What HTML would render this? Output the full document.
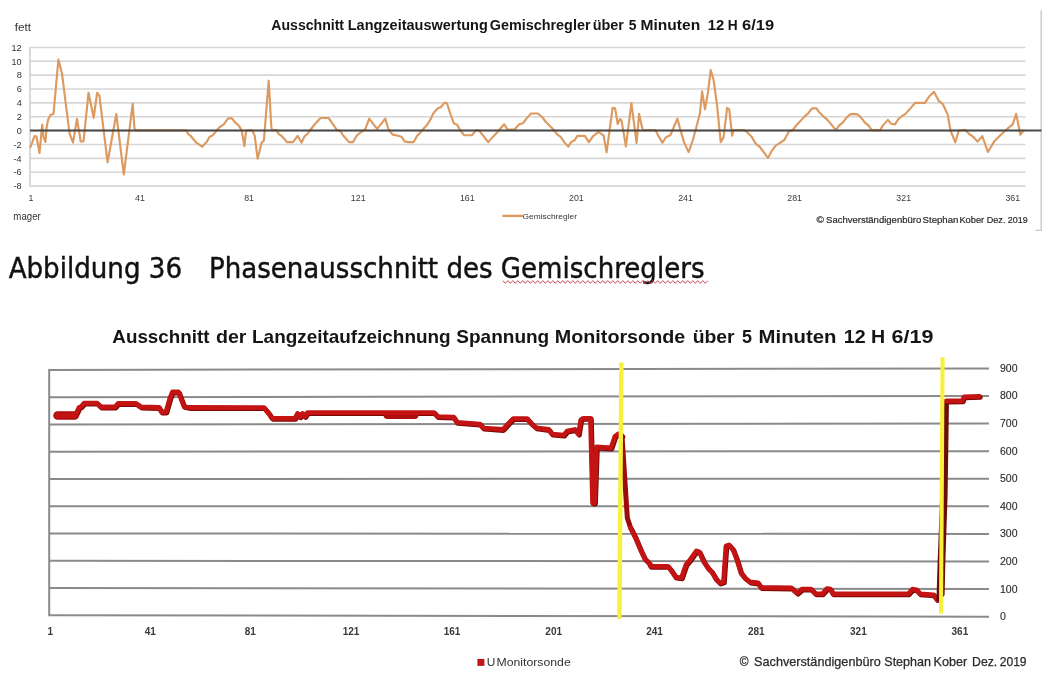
<!DOCTYPE html>
<html><head><meta charset="utf-8"><title>Abbildung 36</title>
<style>
html,body{margin:0;padding:0;background:#fff;}
body{width:1048px;height:700px;overflow:hidden;}
svg{display:block;filter:blur(0.5px);}
</style></head><body>
<svg width="1048" height="700" viewBox="0 0 1048 700">
<rect width="1048" height="700" fill="#ffffff"/>
<!-- chart 1 -->
<path d="M1041.2 10.3 V230.4 H1035.5" fill="none" stroke="#c9c9c9" stroke-width="1.4"/>
<g stroke="#d6d6d6" stroke-width="1.6"><line x1="30" x2="1025.5" y1="47.44" y2="47.44"/><line x1="30" x2="1025.5" y1="61.31" y2="61.31"/><line x1="30" x2="1025.5" y1="75.17" y2="75.17"/><line x1="30" x2="1025.5" y1="89.04" y2="89.04"/><line x1="30" x2="1025.5" y1="102.90" y2="102.90"/><line x1="30" x2="1025.5" y1="116.77" y2="116.77"/><line x1="30" x2="1025.5" y1="130.64" y2="130.64"/><line x1="30" x2="1025.5" y1="144.50" y2="144.50"/><line x1="30" x2="1025.5" y1="158.37" y2="158.37"/><line x1="30" x2="1025.5" y1="172.23" y2="172.23"/><line x1="30" x2="1025.5" y1="186.10" y2="186.10"/></g>
<line x1="30" y1="47" x2="30" y2="186.5" stroke="#d0d0d0" stroke-width="1.6"/>
<polyline points="30.5,147.0 34.5,136.0 36.5,136.5 39.5,153.0 42.2,124.5 43.5,137.0 45.5,142.0 46.5,128.0 48.0,120.0 50.5,115.0 53.5,114.0 54.5,103.0 58.4,59.5 62.1,74.1 66.0,105.7 69.6,133.6 73.0,142.5 77.0,118.9 80.7,141.5 83.5,141.5 88.5,92.8 93.7,117.8 97.1,92.8 99.4,95.6 107.6,162.3 116.3,114.0 123.8,174.4 132.7,103.8 134.5,128.9 135.5,130.4 186.0,130.4 188.3,134.1 190.6,135.8 196.3,142.7 202.1,146.7 206.6,142.1 209.5,136.9 212.9,135.2 216.9,130.1 220.4,126.6 223.8,124.3 227.8,118.6 231.8,118.1 235.3,122.6 238.7,125.5 241.6,130.1 244.4,146.1 246.1,130.6 250.2,130.1 252.4,130.6 254.7,135.8 257.6,158.7 261.6,142.7 263.9,140.4 268.7,80.7 271.3,126.6 271.9,130.1 276.5,130.1 278.8,134.1 281.6,135.8 284.5,139.2 286.8,142.1 293.0,142.1 297.6,135.8 301.6,142.6 304.5,136.3 307.9,133.5 310.2,130.0 314.8,124.3 320.5,118.0 328.5,118.0 333.1,124.3 336.5,129.5 340.5,131.2 343.4,135.8 349.1,142.1 353.1,142.1 356.6,135.8 360.6,132.3 365.2,129.5 369.2,118.6 373.2,123.8 377.2,128.9 381.2,123.8 385.2,118.6 388.6,129.5 392.6,134.6 398.4,135.8 401.8,136.9 404.6,141.5 408.0,142.1 413.7,142.1 417.2,135.8 420.6,132.3 422.9,129.5 427.5,124.3 430.9,118.6 433.2,113.5 437.8,108.3 440.7,107.2 444.7,102.6 446.9,103.2 450.4,114.0 453.8,123.2 457.3,124.9 460.1,130.0 464.1,135.2 472.1,135.2 476.1,130.0 479.0,130.6 482.4,134.6 488.2,142.1 492.8,136.9 497.3,132.3 499.6,129.5 504.2,124.3 507.6,129.5 514.5,129.5 519.3,124.3 523.0,123.2 526.5,118.6 531.0,113.5 537.9,113.5 542.5,117.5 545.9,122.0 549.4,125.5 553.9,130.0 557.4,134.6 560.8,136.9 564.2,142.1 568.2,146.6 571.1,142.1 574.5,140.3 577.4,135.8 584.8,135.8 588.9,142.1 592.9,136.3 598.4,131.9 603.6,135.3 606.6,152.4 612.6,107.9 615.1,108.3 617.7,124.1 619.9,119.0 621.6,120.7 625.9,146.4 631.4,103.1 636.6,143.0 639.1,113.9 641.7,125.9 643.0,130.1 655.4,130.0 657.7,134.6 662.3,142.6 666.3,136.9 670.3,135.2 672.6,130.0 677.4,118.6 680.0,128.6 684.3,142.9 688.6,152.1 692.9,140.0 697.1,124.3 700.0,112.9 702.1,91.4 705.0,109.3 707.9,92.9 710.7,70.0 713.6,80.0 717.1,105.7 720.7,142.1 723.6,137.1 727.1,107.9 729.3,109.3 732.1,135.7 733.6,130.0 744.3,130.0 747.9,132.9 751.4,136.4 755.7,143.6 760.0,147.1 764.3,152.9 767.9,157.9 771.4,151.4 775.7,145.7 780.0,142.9 784.3,140.0 788.9,131.4 792.7,130.1 796.6,125.0 800.4,121.1 804.3,116.6 808.2,113.4 812.0,108.3 816.5,108.3 819.7,112.8 823.6,116.6 827.4,119.9 831.3,124.4 835.8,130.1 839.0,125.6 842.9,122.4 846.7,117.3 850.6,114.1 857.0,114.1 860.9,117.3 864.7,122.4 868.6,125.6 871.8,130.1 880.2,130.1 882.8,125.6 887.9,119.9 891.1,123.7 895.0,124.4 898.2,119.2 902.0,116.0 905.5,113.9 910.4,108.4 915.2,102.8 924.9,102.8 929.1,96.6 933.9,91.8 938.7,100.8 942.9,104.2 947.7,114.6 950.5,130.5 955.3,142.3 958.8,130.5 965.0,129.8 969.2,134.0 973.3,136.8 977.5,141.6 982.3,136.1 987.9,152.0 994.1,141.6 998.9,136.8 1003.8,131.9 1009.3,127.1 1012.8,124.3 1016.2,113.9 1020.4,134.7 1023.1,131.2" fill="none" stroke="#dc9a60" stroke-width="2.15" stroke-linejoin="round" stroke-linecap="round"/>
<line x1="30" y1="130.6" x2="1041.5" y2="130.6" stroke="#3c3c3c" stroke-width="2" stroke-opacity="0.92"/>
<text x="271.30" y="30.4" font-family="Liberation Sans, sans-serif" font-weight="bold" font-size="14.1" fill="#151515" textLength="72.72" lengthAdjust="spacingAndGlyphs">Ausschnitt</text><text x="347.74" y="30.4" font-family="Liberation Sans, sans-serif" font-weight="bold" font-size="14.1" fill="#151515" textLength="140.05" lengthAdjust="spacingAndGlyphs">Langzeitauswertung</text><text x="489.69" y="30.4" font-family="Liberation Sans, sans-serif" font-weight="bold" font-size="14.1" fill="#151515" textLength="100.84" lengthAdjust="spacingAndGlyphs">Gemischregler</text><text x="592.70" y="30.4" font-family="Liberation Sans, sans-serif" font-weight="bold" font-size="14.1" fill="#151515" textLength="31.22" lengthAdjust="spacingAndGlyphs">über</text><text x="628.85" y="30.4" font-family="Liberation Sans, sans-serif" font-weight="bold" font-size="14.1" fill="#151515" textLength="7.74" lengthAdjust="spacingAndGlyphs">5</text><text x="640.59" y="30.4" font-family="Liberation Sans, sans-serif" font-weight="bold" font-size="14.1" fill="#151515" textLength="59.58" lengthAdjust="spacingAndGlyphs">Minuten</text><text x="707.83" y="30.4" font-family="Liberation Sans, sans-serif" font-weight="bold" font-size="14.1" fill="#151515" textLength="16.39" lengthAdjust="spacingAndGlyphs">12</text><text x="727.76" y="30.4" font-family="Liberation Sans, sans-serif" font-weight="bold" font-size="14.1" fill="#151515" textLength="9.91" lengthAdjust="spacingAndGlyphs">H</text><text x="742.13" y="30.4" font-family="Liberation Sans, sans-serif" font-weight="bold" font-size="14.1" fill="#151515" textLength="32.06" lengthAdjust="spacingAndGlyphs">6/19</text>
<text x="14.72" y="31" font-family="Liberation Sans, sans-serif" font-size="10.5" fill="#333" textLength="16.29" lengthAdjust="spacingAndGlyphs">fett</text><text x="13.37" y="219.8" font-family="Liberation Sans, sans-serif" font-size="10" fill="#333" textLength="27.42" lengthAdjust="spacingAndGlyphs">mager</text><text x="522.58" y="218.7" font-family="Liberation Sans, sans-serif" font-size="8" fill="#333" textLength="54.36" lengthAdjust="spacingAndGlyphs">Gemischregler</text><text x="486.81" y="666.2" font-family="Liberation Sans, sans-serif" font-size="10.5" fill="#333" textLength="8.62" lengthAdjust="spacingAndGlyphs">U</text><text x="496.52" y="666.2" font-family="Liberation Sans, sans-serif" font-size="10.5" fill="#333" textLength="74.22" lengthAdjust="spacingAndGlyphs">Monitorsonde</text>
<g font-family="Liberation Sans, sans-serif" font-size="9.1" fill="#333" text-anchor="end"><text x="21.7" y="50.64">12</text><text x="21.7" y="64.51">10</text><text x="21.7" y="78.37">8</text><text x="21.7" y="92.24">6</text><text x="21.7" y="106.10">4</text><text x="21.7" y="119.97">2</text><text x="21.7" y="133.84">0</text><text x="21.7" y="147.70">-2</text><text x="21.7" y="161.57">-4</text><text x="21.7" y="175.43">-6</text><text x="21.7" y="189.30">-8</text></g>
<g font-family="Liberation Sans, sans-serif" font-size="8.8" fill="#3a3a3a" text-anchor="middle"><text x="30.9" y="201.4">1</text><text x="140.0" y="201.4">41</text><text x="249.1" y="201.4">81</text><text x="358.2" y="201.4">121</text><text x="467.3" y="201.4">161</text><text x="576.4" y="201.4">201</text><text x="685.5" y="201.4">241</text><text x="794.6" y="201.4">281</text><text x="903.7" y="201.4">321</text><text x="1012.8" y="201.4">361</text></g>
<line x1="502.4" y1="215.9" x2="523" y2="215.9" stroke="#dc9a60" stroke-width="2.4"/>
<text x="816.49" y="222.8" font-family="Liberation Sans, sans-serif" font-size="9.6" fill="#2a2a2a" textLength="7.45" lengthAdjust="spacingAndGlyphs" stroke="#2a2a2a" stroke-width="0.2">©</text><text x="826.06" y="222.8" font-family="Liberation Sans, sans-serif" font-size="9.6" fill="#2a2a2a" textLength="95.16" lengthAdjust="spacingAndGlyphs" stroke="#2a2a2a" stroke-width="0.2">Sachverständigenbüro</text><text x="922.59" y="222.8" font-family="Liberation Sans, sans-serif" font-size="9.6" fill="#2a2a2a" textLength="35.81" lengthAdjust="spacingAndGlyphs" stroke="#2a2a2a" stroke-width="0.2">Stephan</text><text x="959.40" y="222.8" font-family="Liberation Sans, sans-serif" font-size="9.6" fill="#2a2a2a" textLength="24.84" lengthAdjust="spacingAndGlyphs" stroke="#2a2a2a" stroke-width="0.2">Kober</text><text x="986.75" y="222.8" font-family="Liberation Sans, sans-serif" font-size="9.6" fill="#2a2a2a" textLength="18.70" lengthAdjust="spacingAndGlyphs" stroke="#2a2a2a" stroke-width="0.2">Dez.</text><text x="1007.68" y="222.8" font-family="Liberation Sans, sans-serif" font-size="9.6" fill="#2a2a2a" textLength="20.00" lengthAdjust="spacingAndGlyphs" stroke="#2a2a2a" stroke-width="0.2">2019</text>

<!-- heading -->
<text x="8.64" y="277.8" font-family="DejaVu Sans, sans-serif" font-size="28.3" fill="#111" textLength="173.48" lengthAdjust="spacingAndGlyphs" stroke="#111" stroke-width="0.45">Abbildung 36</text>
<text x="208.99" y="277.8" font-family="DejaVu Sans, sans-serif" font-size="28.3" fill="#111" textLength="495.51" lengthAdjust="spacingAndGlyphs" stroke="#111" stroke-width="0.45">Phasenausschnitt des Gemischreglers</text>
<path d="M502.8 280.6 l2.5 2.7 l2.5 -2.7 l2.5 2.7 l2.5 -2.7 l2.5 2.7 l2.5 -2.7 l2.5 2.7 l2.5 -2.7 l2.5 2.7 l2.5 -2.7 l2.5 2.7 l2.5 -2.7 l2.5 2.7 l2.5 -2.7 l2.5 2.7 l2.5 -2.7 l2.5 2.7 l2.5 -2.7 l2.5 2.7 l2.5 -2.7 l2.5 2.7 l2.5 -2.7 l2.5 2.7 l2.5 -2.7 l2.5 2.7 l2.5 -2.7 l2.5 2.7 l2.5 -2.7 l2.5 2.7 l2.5 -2.7 l2.5 2.7 l2.5 -2.7 l2.5 2.7 l2.5 -2.7 l2.5 2.7 l2.5 -2.7 l2.5 2.7 l2.5 -2.7 l2.5 2.7 l2.5 -2.7 l2.5 2.7 l2.5 -2.7 l2.5 2.7 l2.5 -2.7 l2.5 2.7 l2.5 -2.7 l2.5 2.7 l2.5 -2.7 l2.5 2.7 l2.5 -2.7 l2.5 2.7 l2.5 -2.7 l2.5 2.7 l2.5 -2.7 l2.5 2.7 l2.5 -2.7 l2.5 2.7 l2.5 -2.7 l2.5 2.7 l2.5 -2.7 l2.5 2.7 l2.5 -2.7 l2.5 2.7 l2.5 -2.7 l2.5 2.7 l2.5 -2.7 l2.5 2.7 l2.5 -2.7 l2.5 2.7 l2.5 -2.7 l2.5 2.7 l2.5 -2.7 l2.5 2.7 l2.5 -2.7 l2.5 2.7 l2.5 -2.7 l2.5 2.7 l2.5 -2.7 l2.5 2.7 l2.5 -2.7 l2.5 2.7 l2.5 -2.7" fill="none" stroke="#c8404a" stroke-width="0.95" stroke-linejoin="round"/>

<!-- chart 2 -->
<text x="112.35" y="343.3" font-family="Liberation Sans, sans-serif" font-weight="bold" font-size="18.5" fill="#151515" textLength="97.06" lengthAdjust="spacingAndGlyphs">Ausschnitt</text><text x="215.96" y="343.3" font-family="Liberation Sans, sans-serif" font-weight="bold" font-size="18.5" fill="#151515" textLength="30.51" lengthAdjust="spacingAndGlyphs">der</text><text x="252.07" y="343.3" font-family="Liberation Sans, sans-serif" font-weight="bold" font-size="18.5" fill="#151515" textLength="198.57" lengthAdjust="spacingAndGlyphs">Langzeitaufzeichnung</text><text x="456.31" y="343.3" font-family="Liberation Sans, sans-serif" font-weight="bold" font-size="18.5" fill="#151515" textLength="92.92" lengthAdjust="spacingAndGlyphs">Spannung</text><text x="554.80" y="343.3" font-family="Liberation Sans, sans-serif" font-weight="bold" font-size="18.5" fill="#151515" textLength="130.41" lengthAdjust="spacingAndGlyphs">Monitorsonde</text><text x="692.73" y="343.3" font-family="Liberation Sans, sans-serif" font-weight="bold" font-size="18.5" fill="#151515" textLength="41.91" lengthAdjust="spacingAndGlyphs">über</text><text x="742.07" y="343.3" font-family="Liberation Sans, sans-serif" font-weight="bold" font-size="18.5" fill="#151515" textLength="9.99" lengthAdjust="spacingAndGlyphs">5</text><text x="758.60" y="343.3" font-family="Liberation Sans, sans-serif" font-weight="bold" font-size="18.5" fill="#151515" textLength="77.75" lengthAdjust="spacingAndGlyphs">Minuten</text><text x="843.86" y="343.3" font-family="Liberation Sans, sans-serif" font-weight="bold" font-size="18.5" fill="#151515" textLength="21.93" lengthAdjust="spacingAndGlyphs">12</text><text x="870.94" y="343.3" font-family="Liberation Sans, sans-serif" font-weight="bold" font-size="18.5" fill="#151515" textLength="14.16" lengthAdjust="spacingAndGlyphs">H</text><text x="891.54" y="343.3" font-family="Liberation Sans, sans-serif" font-weight="bold" font-size="18.5" fill="#151515" textLength="41.84" lengthAdjust="spacingAndGlyphs">6/19</text>
<g stroke="#8a8a8a" stroke-width="2"><line x1="49" x2="989" y1="369.94" y2="368.38"/><line x1="49" x2="989" y1="397.20" y2="395.97"/><line x1="49" x2="989" y1="424.46" y2="423.56"/><line x1="49" x2="989" y1="451.71" y2="451.14"/><line x1="49" x2="989" y1="478.97" y2="478.73"/><line x1="49" x2="989" y1="506.23" y2="506.32"/><line x1="49" x2="989" y1="533.49" y2="533.91"/><line x1="49" x2="989" y1="560.74" y2="561.49"/><line x1="49" x2="989" y1="588.00" y2="589.08"/><line x1="49" x2="989" y1="615.26" y2="616.67"/></g>
<line x1="49.2" y1="368.9" x2="49.2" y2="616.2" stroke="#8a8a8a" stroke-width="2"/>
<g transform="translate(0.8,0.9)" fill="none" stroke="#7a0606" stroke-width="5" stroke-linejoin="round" stroke-linecap="round">
<polyline points="57.0,415.5 75.0,415.5 77.0,412.0 79.0,407.5 81.0,406.8 84.0,403.2 97.0,403.2 101.0,407.0 115.0,407.0 118.0,403.5 136.0,403.5 141.0,407.0 159.0,407.5 161.5,412.0 166.0,412.0 170.0,398.0 172.5,392.0 178.5,392.0 184.0,406.5 189.0,407.5 264.0,407.7 268.5,413.0 272.0,418.3 295.0,418.3 297.5,413.5 300.0,416.8 302.5,413.5 305.0,416.5 307.5,412.6 434.0,412.6 437.6,416.6 453.6,417.2 457.0,422.4 479.9,424.1 483.4,428.1 502.9,429.5 507.5,424.4 513.2,418.6 527.0,418.6 531.5,423.8 536.1,427.8 548.7,429.5 552.1,434.1 563.6,435.2 567.0,431.2 575.0,429.5 578.5,434.1 580.8,420.0 583.0,418.4 590.5,418.4 592.6,503.0 594.6,503.0 596.5,447.0 611.0,448.0 615.0,436.4 618.0,434.0 622.0,436.0"/><polyline points="630.6,528.0 635.7,538.3 641.5,552.0 644.9,558.9 649.5,563.5 650.6,566.3 667.8,566.3 671.2,570.3 675.8,577.2 681.5,577.8 686.1,564.6 689.5,560.6 696.4,550.9 699.3,552.0 704.0,562.0 708.0,568.0 712.0,572.0 716.0,579.0 720.0,583.0 723.5,582.0 726.0,546.0 729.0,545.0 733.0,549.5 737.0,560.0 741.0,573.0 745.0,578.0 750.0,582.0 758.0,583.0 761.0,587.5 791.5,588.0 797.3,593.2 801.8,589.2 811.0,589.2 815.6,593.8 822.4,593.8 827.0,588.6 830.5,589.2 832.8,593.8 908.4,593.8 912.4,589.2 916.4,589.8 919.8,593.8 933.6,594.9 937.0,599.5 938.5,599.0"/><polyline points="946.5,401.0 962.3,400.9 964.0,396.9 979.4,396.3"/>
</g>
<line x1="57.5" y1="415.5" x2="74.5" y2="415.5" stroke="#b00d0d" stroke-width="8.5" stroke-linecap="round"/>
<line x1="387.5" y1="415" x2="414.5" y2="415" stroke="#b00d0d" stroke-width="8" stroke-linecap="round"/>
<polyline points="57.0,415.5 75.0,415.5 77.0,412.0 79.0,407.5 81.0,406.8 84.0,403.2 97.0,403.2 101.0,407.0 115.0,407.0 118.0,403.5 136.0,403.5 141.0,407.0 159.0,407.5 161.5,412.0 166.0,412.0 170.0,398.0 172.5,392.0 178.5,392.0 184.0,406.5 189.0,407.5 264.0,407.7 268.5,413.0 272.0,418.3 295.0,418.3 297.5,413.5 300.0,416.8 302.5,413.5 305.0,416.5 307.5,412.6 434.0,412.6 437.6,416.6 453.6,417.2 457.0,422.4 479.9,424.1 483.4,428.1 502.9,429.5 507.5,424.4 513.2,418.6 527.0,418.6 531.5,423.8 536.1,427.8 548.7,429.5 552.1,434.1 563.6,435.2 567.0,431.2 575.0,429.5 578.5,434.1 580.8,420.0 583.0,418.4 590.5,418.4 592.6,503.0 594.6,503.0 596.5,447.0 611.0,448.0 615.0,436.4 618.0,434.0 622.0,436.0" fill="none" stroke="#c41313" stroke-width="4.8" stroke-linejoin="round" stroke-linecap="round"/>
<polyline points="622.0,436.0 627.3,517.7 630.6,528.0" fill="none" stroke="#9c0c0c" stroke-width="5" stroke-linejoin="round" stroke-linecap="round"/>
<polyline points="630.6,528.0 635.7,538.3 641.5,552.0 644.9,558.9 649.5,563.5 650.6,566.3 667.8,566.3 671.2,570.3 675.8,577.2 681.5,577.8 686.1,564.6 689.5,560.6 696.4,550.9 699.3,552.0 704.0,562.0 708.0,568.0 712.0,572.0 716.0,579.0 720.0,583.0 723.5,582.0 726.0,546.0 729.0,545.0 733.0,549.5 737.0,560.0 741.0,573.0 745.0,578.0 750.0,582.0 758.0,583.0 761.0,587.5 791.5,588.0 797.3,593.2 801.8,589.2 811.0,589.2 815.6,593.8 822.4,593.8 827.0,588.6 830.5,589.2 832.8,593.8 908.4,593.8 912.4,589.2 916.4,589.8 919.8,593.8 933.6,594.9 937.0,599.5 938.5,599.0" fill="none" stroke="#c41313" stroke-width="4.8" stroke-linejoin="round" stroke-linecap="round"/>
<polygon points="936.4,601 937.6,563 943.8,399.5 949,399.5 947.6,495 945.4,560 944.6,595 940,601.5" fill="#6a0d04"/>
<polyline points="946.5,401.0 962.3,400.9 964.0,396.9 979.4,396.3" fill="none" stroke="#c41313" stroke-width="4.8" stroke-linejoin="round" stroke-linecap="round"/>
<line x1="621.4" y1="362.6" x2="619.4" y2="619" stroke="#f7f03c" stroke-width="4.4"/>
<line x1="942.6" y1="357.3" x2="941" y2="613.5" stroke="#f7f03c" stroke-width="4.1"/>
<g font-family="Liberation Sans, sans-serif" font-size="10.5" fill="#2a2a2a" stroke="#2a2a2a" stroke-width="0.12"><text x="1000" y="371.80">900</text><text x="1000" y="399.41">800</text><text x="1000" y="427.01">700</text><text x="1000" y="454.62">600</text><text x="1000" y="482.22">500</text><text x="1000" y="509.83">400</text><text x="1000" y="537.43">300</text><text x="1000" y="565.04">200</text><text x="1000" y="592.64">100</text><text x="1000" y="620.25">0</text></g>
<g font-family="Liberation Sans, sans-serif" font-size="10" font-weight="bold" fill="#3a3a3a" text-anchor="middle"><text x="50.3" y="634.6">1</text><text x="150.3" y="634.6">41</text><text x="250.3" y="634.6">81</text><text x="351.0" y="634.6">121</text><text x="452.1" y="634.6">161</text><text x="553.7" y="634.6">201</text><text x="654.6" y="634.6">241</text><text x="756.3" y="634.6">281</text><text x="858.4" y="634.6">321</text><text x="959.9" y="634.6">361</text></g>
<rect x="477.4" y="658.9" width="7" height="7" fill="#c01818"/>
<text x="739.82" y="665.7" font-family="Liberation Sans, sans-serif" font-size="12.8" fill="#2a2a2a" textLength="8.79" lengthAdjust="spacingAndGlyphs" stroke="#2a2a2a" stroke-width="0.25">©</text><text x="754.07" y="665.7" font-family="Liberation Sans, sans-serif" font-size="12.8" fill="#2a2a2a" textLength="126.72" lengthAdjust="spacingAndGlyphs" stroke="#2a2a2a" stroke-width="0.25">Sachverständigenbüro</text><text x="884.28" y="665.7" font-family="Liberation Sans, sans-serif" font-size="12.8" fill="#2a2a2a" textLength="46.71" lengthAdjust="spacingAndGlyphs" stroke="#2a2a2a" stroke-width="0.25">Stephan</text><text x="933.55" y="665.7" font-family="Liberation Sans, sans-serif" font-size="12.8" fill="#2a2a2a" textLength="33.73" lengthAdjust="spacingAndGlyphs" stroke="#2a2a2a" stroke-width="0.25">Kober</text><text x="972.05" y="665.7" font-family="Liberation Sans, sans-serif" font-size="12.8" fill="#2a2a2a" textLength="25.14" lengthAdjust="spacingAndGlyphs" stroke="#2a2a2a" stroke-width="0.25">Dez.</text><text x="999.73" y="665.7" font-family="Liberation Sans, sans-serif" font-size="12.8" fill="#2a2a2a" textLength="26.87" lengthAdjust="spacingAndGlyphs" stroke="#2a2a2a" stroke-width="0.25">2019</text>
</svg>
</body></html>
